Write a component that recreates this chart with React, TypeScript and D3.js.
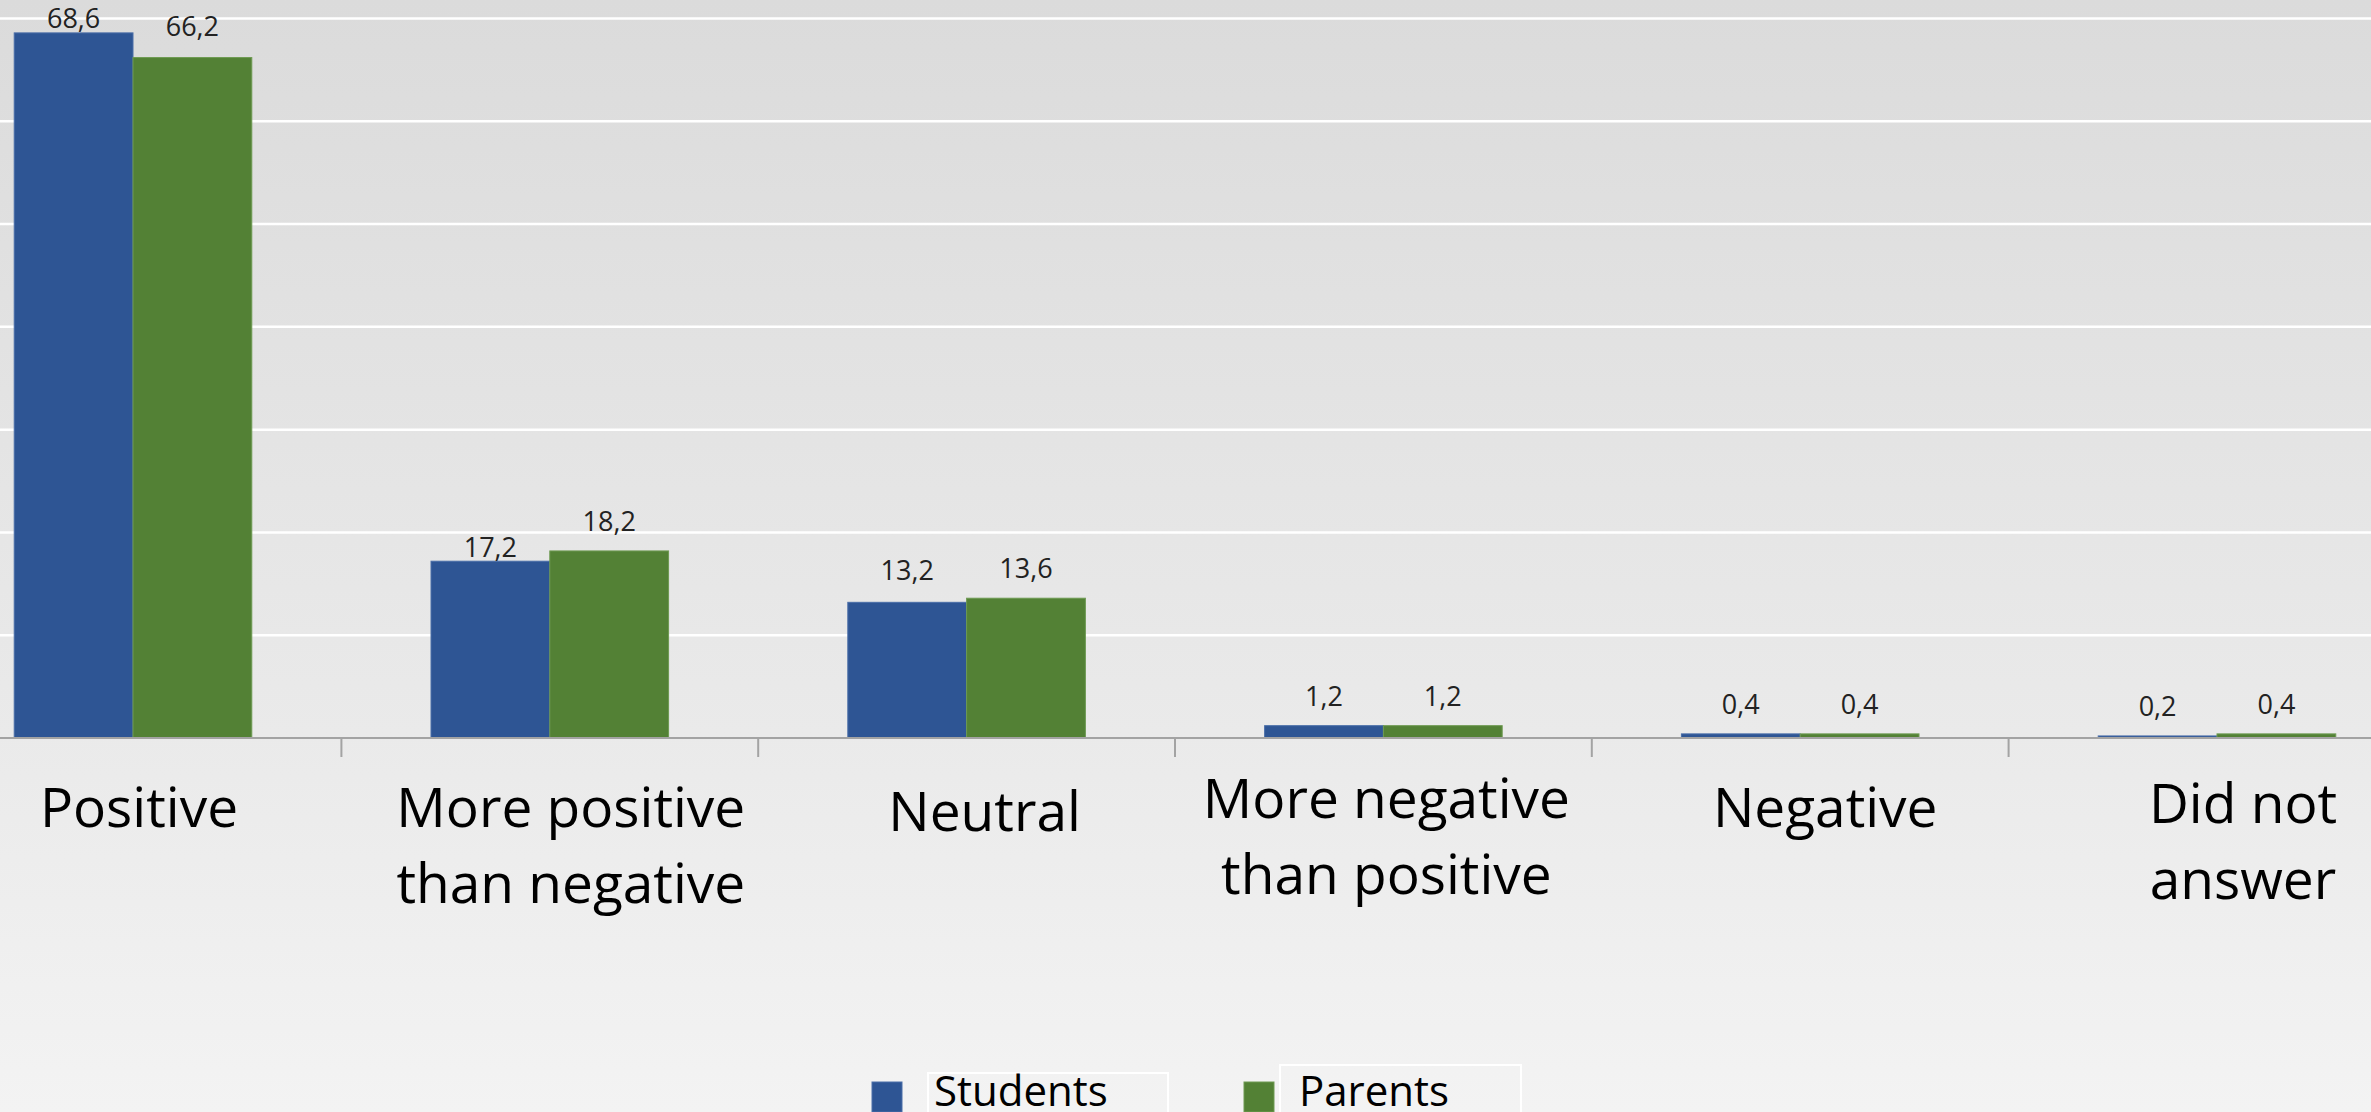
import React from "react";
import * as d3 from "d3";

const categories: string[][] = [
  ["Positive"],
  ["More positive", "than negative"],
  ["Neutral"],
  ["More negative", "than positive"],
  ["Negative"],
  ["Did not", "answer"],
];
const seriesNames = ["Students", "Parents"];
const students = [68.6, 17.2, 13.2, 1.2, 0.4, 0.2];
const parents = [66.2, 18.2, 13.6, 1.2, 0.4, 0.4];
const valueLabels = [
  ["68,6", "17,2", "13,2", "1,2", "0,4", "0,2"],
  ["66,2", "18,2", "13,6", "1,2", "0,4", "0,4"],
];
const gridTicks = [10, 20, 30, 40, 50, 60, 70];

// layout tweaks (not data)
const labelDx = [6, 21, 18, 3, 25, 26];
const labelDy = [89, 89, 93, 80, 89, 85];
const valueLift = [
  [5, 4, 22, 20, 20, 20],
  [22, 20, 20, 20, 20, 20],
];

const W = 2371;
const H = 1112;
const colors = ["#2E5594", "#538135"];
const strokeColors = ["#4a6ea8", "#6e9a52"];

export default function App() {
  const keys = categories.map((c) => c.join(" "));
  const x = d3
    .scaleBand<string>()
    .domain(keys)
    .range([-75.4, 2425.4])
    .paddingInner(0.43)
    .paddingOuter(0.215);
  const xs = d3
    .scaleBand<string>()
    .domain(seriesNames)
    .range([0, x.bandwidth()])
    .padding(0);
  const y = d3.scaleLinear().domain([0, 70]).range([738, 18.5]);
  const series = [students, parents];
  const base = y(0);
  const step = x.step();

  return (
    <div style={{ position: "fixed", left: 0, top: 0, width: W, height: H }}>
      <svg width={W} height={H} style={{ display: "block" }}>
        <defs>
          <linearGradient id="bg" x1="0" y1="0" x2="0" y2="1">
            <stop offset="0" stopColor="#dbdbdb" />
            <stop offset="0.66" stopColor="#eaeaea" />
            <stop offset="1" stopColor="#f3f3f3" />
          </linearGradient>
        </defs>
        <rect x={0} y={0} width={W} height={H} fill="url(#bg)" />
        {gridTicks.map((t) => (
          <line
            key={t}
            x1={0}
            x2={W}
            y1={y(t)}
            y2={y(t)}
            stroke="#ffffff"
            strokeWidth={2.5}
          />
        ))}
        {series.map((vals, si) =>
          vals.map((v, ci) => (
            <rect
              key={`b${si}-${ci}`}
              x={(x(keys[ci]) as number) + (xs(seriesNames[si]) as number)}
              y={y(v)}
              width={xs.bandwidth()}
              height={base - y(v)}
              fill={colors[si]}
              stroke={strokeColors[si]}
              strokeWidth={1}
            />
          ))
        )}
        <line x1={0} x2={W} y1={base} y2={base} stroke="#a3a3a3" strokeWidth={2} />
        {keys.slice(1).map((k) => (
          <line
            key={`t${k}`}
            x1={(x(k) as number) - (step - x.bandwidth()) / 2}
            x2={(x(k) as number) - (step - x.bandwidth()) / 2}
            y1={base}
            y2={base + 19}
            stroke="#a3a3a3"
            strokeWidth={2}
          />
        ))}
        {series.map((vals, si) =>
          vals.map((v, ci) => (
            <text
              key={`v${si}-${ci}`}
              x={(x(keys[ci]) as number) + (xs(seriesNames[si]) as number) + xs.bandwidth() / 2}
              y={y(v) - valueLift[si][ci]}
              textAnchor="middle"
              fontFamily="'Open Sans', sans-serif"
              fontSize={27}
              fill="#222222"
            >
              {valueLabels[si][ci]}
            </text>
          ))
        )}
        {categories.map((lines, ci) => (
          <text
            key={`c${ci}`}
            x={(x(keys[ci]) as number) + x.bandwidth() / 2 + labelDx[ci]}
            y={base + labelDy[ci]}
            textAnchor="middle"
            fontFamily="'Open Sans', sans-serif"
            fontSize={55}
            fill="#000000"
          >
            {lines.map((l, li) => (
              <tspan
                key={li}
                x={(x(keys[ci]) as number) + x.bandwidth() / 2 + labelDx[ci]}
                dy={li === 0 ? 0 : 76}
              >
                {l}
              </tspan>
            ))}
          </text>
        ))}
        {/* legend */}
        <g>
          <rect x={928} y={1073} width={240} height={60} fill="none" stroke="#ffffff" strokeWidth={2} />
          <rect x={1280} y={1065} width={241} height={70} fill="none" stroke="#ffffff" strokeWidth={2} />
          {seriesNames.map((s, i) => (
            <g key={s}>
              <rect
                x={i === 0 ? 872 : 1244}
                y={1082}
                width={30}
                height={30}
                fill={colors[i]}
                stroke={strokeColors[i]}
                strokeWidth={1}
              />
              <text
                x={i === 0 ? 934 : 1299}
                y={1106}
                fontFamily="'Open Sans', sans-serif"
                fontSize={42}
                fill="#000000"
              >
                {s}
              </text>
            </g>
          ))}
        </g>
      </svg>
    </div>
  );
}
